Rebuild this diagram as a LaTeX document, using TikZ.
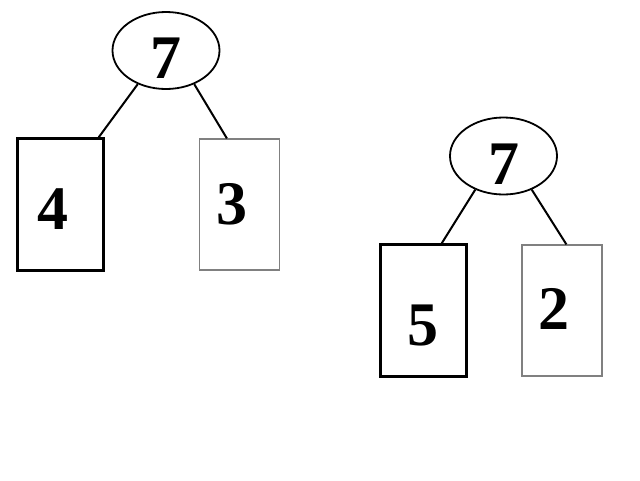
\documentclass[tikz,border=0pt]{standalone}
\usepackage{fontspec}
\setmainfont{Liberation Serif}
\usetikzlibrary{shapes.geometric}

\begin{document}
\begin{tikzpicture}[x=1pt, y=-1pt,
    num/.style={font=\bfseries\fontsize{62}{62}\selectfont, inner sep=0pt},
    root/.style={ellipse, draw, line width=1.8pt, minimum width=107pt, minimum height=77pt, inner sep=0pt},
    big/.style={rectangle, draw, line width=2.5pt, minimum width=86pt, minimum height=132pt, inner sep=0pt},
    small/.style={rectangle, draw=black!50, line width=1.2pt, minimum width=80pt, minimum height=131pt, inner sep=0pt},
    edge/.style={line width=2pt}]
  \useasboundingbox (0,0) rectangle (640,480);
  % left tree
  \node[root, label={[num, yshift=-8pt]center:7}] (rootA) at (166,50.5) {};
  \node[big, label={[num, shift={(-8pt,-4.5pt)}]center:4}] (leafA) at (60.5,204.5) {};
  \node[small, label={[num, shift={(-8pt,0pt)}]center:3}] (leafB) at (239.5,204.5) {};
  \draw[edge] (rootA.230) -- ([xshift=-6pt]leafA.north east);
  \draw[edge] (rootA.310) -- ([xshift=28pt]leafB.north west);
  % right tree
  \node[root, label={[num, yshift=-8pt]center:7}] (rootB) at (503.5,156) {};
  \node[big, label={[num, shift={(-1pt,-14.5pt)}]center:5}] (leafC) at (423.5,310.5) {};
  \node[small, label={[num, shift={(-8pt,1.5pt)}]center:2}] (leafD) at (562,310.5) {};
  \draw[edge] (rootB.230) -- ([xshift=-26pt]leafC.north east);
  \draw[edge] (rootB.310) -- ([xshift=45pt]leafD.north west);
\end{tikzpicture}
\end{document}
